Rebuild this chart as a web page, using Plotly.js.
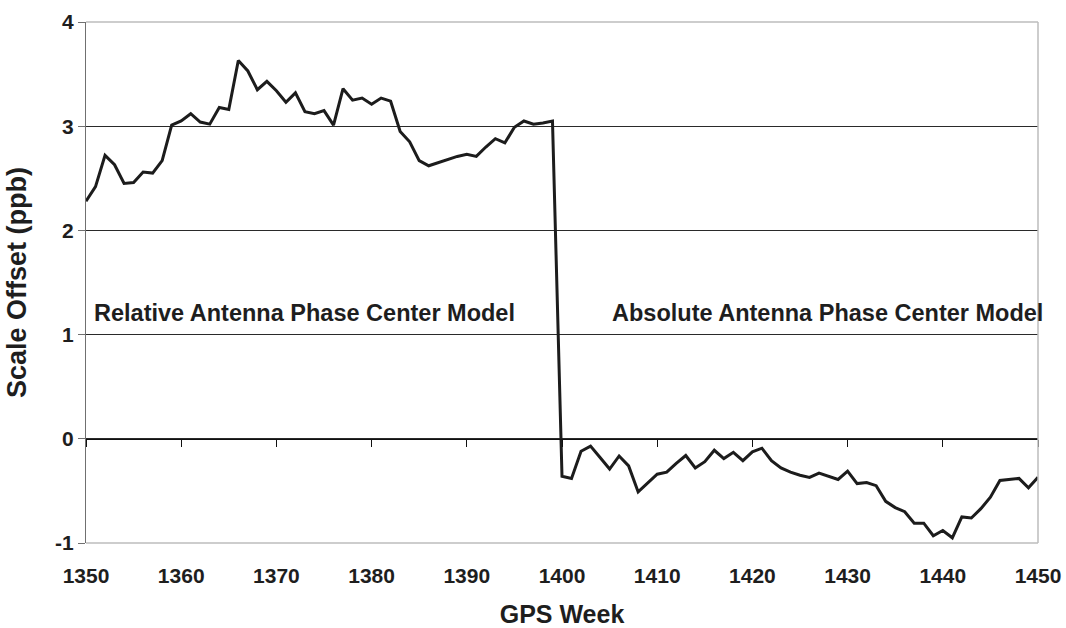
<!DOCTYPE html>
<html>
<head>
<meta charset="utf-8">
<script src="https://cdn.plot.ly/plotly-3.0.1.min.js"></script>
<style>html,body{margin:0;padding:0;background:#fff;}#chart{width:1066px;height:628px;}</style>
</head>
<body>
<div id="chart"></div>
<script>
// GPS weeks 1350..1450 (weekly)
const weeks = [
1350,1351,1352,1353,1354,1355,1356,1357,1358,1359,
1360,1361,1362,1363,1364,1365,1366,1367,1368,1369,
1370,1371,1372,1373,1374,1375,1376,1377,1378,1379,
1380,1381,1382,1383,1384,1385,1386,1387,1388,1389,
1390,1391,1392,1393,1394,1395,1396,1397,1398,1399,
1400,1401,1402,1403,1404,1405,1406,1407,1408,1409,
1410,1411,1412,1413,1414,1415,1416,1417,1418,1419,
1420,1421,1422,1423,1424,1425,1426,1427,1428,1429,
1430,1431,1432,1433,1434,1435,1436,1437,1438,1439,
1440,1441,1442,1443,1444,1445,1446,1447,1448,1449,
1450];
// Scale offset (ppb)
const scaleOffset = [
2.28,2.42,2.72,2.63,2.45,2.46,2.56,2.55,2.67,3.01,
3.05,3.12,3.04,3.02,3.18,3.16,3.63,3.53,3.35,3.43,
3.34,3.23,3.32,3.14,3.12,3.15,3.01,3.36,3.25,3.27,
3.21,3.27,3.24,2.95,2.85,2.67,2.62,2.65,2.68,2.71,
2.73,2.71,2.80,2.88,2.84,2.99,3.05,3.02,3.03,3.05,
-0.36,-0.38,-0.12,-0.07,-0.18,-0.29,-0.165,-0.26,-0.51,-0.42,
-0.34,-0.32,-0.235,-0.16,-0.28,-0.22,-0.11,-0.19,-0.13,-0.21,
-0.125,-0.09,-0.21,-0.28,-0.32,-0.35,-0.37,-0.33,-0.36,-0.39,
-0.31,-0.43,-0.42,-0.45,-0.60,-0.66,-0.70,-0.81,-0.81,-0.93,
-0.88,-0.95,-0.75,-0.76,-0.67,-0.56,-0.40,-0.39,-0.38,-0.47,
-0.37];

const yTickVals = [-1, 0, 1, 2, 3, 4];
const yTickText = ['-1', '0', '1', '2', '3', '4'];
const xTickVals = [1350,1360,1370,1380,1390,1400,1410,1420,1430,1440,1450];
const labelLeft = 'Relative Antenna Phase Center Model';
const labelRight = 'Absolute Antenna Phase Center Model';

const FONT = 'Liberation Sans, Arial, Helvetica, sans-serif';
const border = '#bdbdbd';

// invisible copy on the overlay axis so the y=0 axis line with ticks is drawn
const axisCarrier = {
  x: weeks, y: scaleOffset, xaxis: 'x2', yaxis: 'y', type: 'scatter', mode: 'lines',
  line: {color: 'rgba(0,0,0,0)', width: 0}, hoverinfo: 'skip', showlegend: false
};
const trace = {
  x: weeks, y: scaleOffset, type: 'scatter', mode: 'lines',
  line: {color: '#1c1c1c', width: 3}, hoverinfo: 'skip', showlegend: false
};

const layout = {
  width: 1066, height: 628,
  margin: {l: 86, r: 28, t: 22, b: 85},
  paper_bgcolor: '#fff', plot_bgcolor: '#fff',
  showlegend: false,
  font: {family: FONT, color: '#1e1e1e', size: 21, weight: 700},
  xaxis: {
    range: [1350, 1450], tickvals: xTickVals,
    showgrid: false, zeroline: false, showline: false,
    ticks: '', ticklabelstandoff: 18,
    tickfont: {family: FONT, size: 21, weight: 700, color: '#1e1e1e'},
    title: {text: 'GPS Week', font: {family: FONT, size: 25, weight: 700, color: '#1e1e1e'}, standoff: 20}
  },
  xaxis2: {
    overlaying: 'x', anchor: 'free', position: 0.2, side: 'bottom',
    range: [1350, 1450], tickvals: xTickVals,
    showgrid: false, zeroline: false, showline: true, linecolor: '#111', linewidth: 1.5,
    ticks: 'outside', ticklen: 7, tickcolor: '#111', tickwidth: 1,
    showticklabels: false
  },
  yaxis: {
    range: [-1, 4], tickvals: yTickVals, ticktext: yTickText,
    showgrid: true, gridcolor: '#2a2a2a', gridwidth: 1,
    zeroline: false, showline: true, linecolor: '#707070', linewidth: 1,
    ticks: 'outside', ticklen: 7, tickcolor: '#707070',
    tickfont: {family: FONT, size: 21, weight: 700, color: '#1e1e1e'},
    title: {text: 'Scale Offset (ppb)', font: {family: FONT, size: 27, weight: 700, color: '#1e1e1e'}, standoff: 20}
  },
  shapes: [
    {type: 'line', xref: 'paper', yref: 'paper', x0: 0, x1: 1, y0: 1, y1: 1, line: {color: border, width: 1.5}, layer: 'above'},
    {type: 'line', xref: 'paper', yref: 'paper', x0: 0, x1: 1, y0: 0, y1: 0, line: {color: border, width: 1.5}, layer: 'above'},
    {type: 'line', xref: 'paper', yref: 'paper', x0: 1, x1: 1, y0: 0, y1: 1, line: {color: border, width: 1.5}, layer: 'above'}
  ],
  annotations: [
    {x: 1350.6, y: 1.21, xref: 'x', yref: 'y', text: labelLeft, showarrow: false, xanchor: 'left', yanchor: 'middle',
     font: {family: FONT, size: 23.5, weight: 700, color: '#1e1e1e'}},
    {x: 1405.0, y: 1.21, xref: 'x', yref: 'y', text: labelRight, showarrow: false, xanchor: 'left', yanchor: 'middle',
     font: {family: FONT, size: 23.5, weight: 700, color: '#1e1e1e'}}
  ]
};

Plotly.newPlot('chart', [axisCarrier, trace], layout, {displayModeBar: false, staticPlot: true});
</script>
</body>
</html>
